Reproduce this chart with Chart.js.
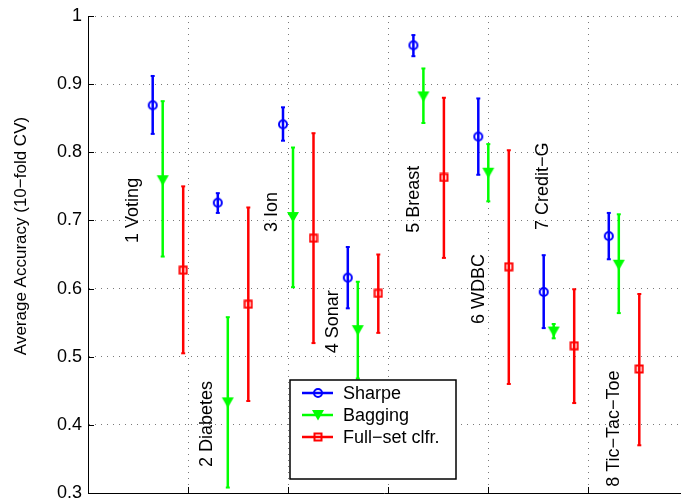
<!DOCTYPE html>
<html>
<head>
<meta charset="utf-8">
<script src="https://cdn.jsdelivr.net/npm/chart.js@4.4.1/dist/chart.umd.min.js"></script>
<style>
    html, body { margin: 0; padding: 0; background: #fff; overflow: hidden; }
    canvas { display: block; }
</style>
</head>
<body>
<canvas id="accChart" width="686" height="500" style="width:686px;height:500px"></canvas>
<script>
// === Data ===
const groupNames = ['1 Voting', '2 Diabetes', '3 Ion', '4 Sonar', '5 Breast', '6 WDBC', '7 Credit\u2212G', '8 Tic\u2212Tac\u2212Toe'];
const groupX = [0.647, 1.298, 1.950, 2.598, 3.254, 3.903, 4.557, 5.208];
const seriesNames = ['Sharpe', 'Bagging', 'Full\u2212set clfr.'];
const seriesOffset = [0, 0.10, 0.305];

const sharpeMean = [0.869, 0.726, 0.841, 0.616, 0.957, 0.823, 0.595, 0.677];
const sharpeLow  = [0.827, 0.711, 0.817, 0.571, 0.941, 0.767, 0.542, 0.643];
const sharpeHigh = [0.912, 0.740, 0.866, 0.661, 0.972, 0.879, 0.649, 0.711];

const baggingMean = [0.759, 0.433, 0.705, 0.539, 0.882, 0.770, 0.537, 0.635];
const baggingLow  = [0.647, 0.308, 0.602, 0.468, 0.843, 0.728, 0.527, 0.564];
const baggingHigh = [0.875, 0.558, 0.807, 0.610, 0.923, 0.812, 0.548, 0.709];

const fullMean = [0.627, 0.577, 0.674, 0.593, 0.763, 0.632, 0.516, 0.482];
const fullLow  = [0.505, 0.435, 0.520, 0.535, 0.645, 0.460, 0.432, 0.370];
const fullHigh = [0.750, 0.719, 0.828, 0.650, 0.880, 0.803, 0.599, 0.592];

// rotated dataset labels (x, y where the text starts)
const labelX = [0.450, 1.188, 1.837, 2.446, 3.257, 3.906, 4.550, 5.257];
const labelY = [0.667, 0.338, 0.683, 0.505, 0.682, 0.548, 0.686, 0.309];

const yTickValues = [0.3, 0.4, 0.5, 0.6, 0.7, 0.8, 0.9, 1.0];
const yTickLabels = ['0.3', '0.4', '0.5', '0.6', '0.7', '0.8', '0.9', '1'];
const xGridValues = [1, 2, 3, 4, 5];
const yTitle = 'Average Accuracy (10\u2212fold CV)';

// === Styles ===
const FONT = '"Liberation Sans", Arial, Helvetica, sans-serif';
const BLUE = '#0000ff', GREEN = '#00ff00', RED = '#ff0000';
const GRID = '#7a7a7a';

// marker images (MATLAB style)
function makeMarker(w, h, draw) {
    const c = document.createElement('canvas');
    c.width = w; c.height = h;
    draw(c.getContext('2d'));
    return c;
}
const circleMarker = makeMarker(12, 12, g => {
    g.strokeStyle = BLUE; g.lineWidth = 2;
    g.beginPath(); g.arc(6, 6, 4, 0, Math.PI * 2); g.stroke();
});
const triMarker = makeMarker(14, 12, g => {
    g.fillStyle = GREEN;
    g.beginPath(); g.moveTo(1, 1); g.lineTo(13, 1); g.lineTo(7, 11.5); g.closePath(); g.fill();
});
const squareMarker = makeMarker(10, 10, g => {
    g.strokeStyle = RED; g.lineWidth = 2;
    g.strokeRect(1.5, 1.5, 7, 7);
});
const markers = [circleMarker, triMarker, squareMarker];
const colors = [BLUE, GREEN, RED];

function barData(low, high, off) {
    const out = [];
    groupX.forEach((g, i) => {
        out.push({ x: g + off, y: low[i] }, { x: g + off, y: high[i] }, { x: g + off, y: null });
    });
    return out;
}
function markData(mean, off) {
    return groupX.map((g, i) => ({ x: g + off, y: mean[i] }));
}

const means = [sharpeMean, baggingMean, fullMean];
const lows = [sharpeLow, baggingLow, fullLow];
const highs = [sharpeHigh, baggingHigh, fullHigh];

const datasets = [];
for (let s = 0; s < 3; s++) {
    datasets.push({
        type: 'scatter',
        label: seriesNames[s],
        data: markData(means[s], seriesOffset[s]),
        pointStyle: markers[s],
        pointRadius: 5,
        order: 0
    });
}
for (let s = 0; s < 3; s++) {
    datasets.push({
        type: 'line',
        label: seriesNames[s] + ' bars',
        data: barData(lows[s], highs[s], seriesOffset[s]),
        borderColor: colors[s],
        borderWidth: 2.5,
        spanGaps: false,
        fill: false,
        pointStyle: 'line',
        pointRadius: c => (c.raw && c.raw.y != null ? 2 : 0),
        pointBorderWidth: 2,
        pointBorderColor: colors[s],
        order: 1
    });
}

// === Extra drawing: inward ticks, text labels, y title, legend ===
const decor = {
    id: 'decor',
    afterDatasetsDraw(chart) {
        const ctx = chart.ctx;
        const xs = chart.scales.x, ys = chart.scales.y;
        ctx.save();
        ctx.fillStyle = '#000';
        ctx.font = '18px ' + FONT;
        ctx.textAlign = 'left';
        ctx.textBaseline = 'middle';
        groupNames.forEach((name, i) => {
            ctx.save();
            ctx.translate(xs.getPixelForValue(labelX[i]), ys.getPixelForValue(labelY[i]));
            ctx.rotate(-Math.PI / 2);
            ctx.fillText(name, 0, 0);
            ctx.restore();
        });
        ctx.restore();
    },
    afterDraw(chart) {
        const ctx = chart.ctx;
        const area = chart.chartArea;
        const xs = chart.scales.x, ys = chart.scales.y;
        ctx.save();

        // inward ticks
        ctx.strokeStyle = '#000';
        ctx.lineWidth = 1;
        ctx.beginPath();
        yTickValues.forEach(v => {
            const py = Math.round(ys.getPixelForValue(v)) + 0.5;
            ctx.moveTo(area.left, py); ctx.lineTo(area.left + 6, py);
        });
        xGridValues.forEach(v => {
            const px = Math.round(xs.getPixelForValue(v)) + 0.5;
            ctx.moveTo(px, area.bottom); ctx.lineTo(px, area.bottom - 6);
        });
        ctx.stroke();

        // y axis title
        ctx.save();
        ctx.translate(21, 236);
        ctx.rotate(-Math.PI / 2);
        ctx.font = '17px ' + FONT;
        ctx.fillStyle = '#000';
        ctx.textAlign = 'center';
        ctx.textBaseline = 'middle';
        ctx.fillText(yTitle, 0, 0);
        ctx.restore();

        // legend box
        const lx = 290, ly = 380, lw = 166, lh = 99;
        ctx.fillStyle = '#fff';
        ctx.fillRect(lx, ly, lw, lh);
        ctx.strokeStyle = '#000';
        ctx.lineWidth = 1.5;
        ctx.strokeRect(lx, ly, lw, lh);
        ctx.font = '18px ' + FONT;
        ctx.textAlign = 'left';
        ctx.textBaseline = 'middle';
        seriesNames.forEach((name, i) => {
            const y = ly + 13 + i * 22;
            ctx.strokeStyle = colors[i];
            ctx.lineWidth = 2.5;
            ctx.beginPath();
            ctx.moveTo(lx + 12, y); ctx.lineTo(lx + 43, y);
            ctx.stroke();
            const m = markers[i];
            ctx.drawImage(m, lx + 28 - m.width / 2, y - m.height / 2);
            ctx.fillStyle = '#000';
            ctx.fillText(name, lx + 53, y + 1);
        });
        ctx.restore();
    }
};

const chart = new Chart(document.getElementById('accChart').getContext('2d'), {
    type: 'scatter',
    data: { datasets },
    options: {
        responsive: false,
        animation: false,
        layout: { padding: { top: 16, left: 0, right: 0, bottom: 0 } },
        plugins: { legend: { display: false }, tooltip: { enabled: false } },
        scales: {
            x: {
                type: 'linear',
                min: 0,
                max: 5.92,
                afterBuildTicks: s => { s.ticks = xGridValues.map(v => ({ value: v })); },
                afterFit: s => { s.height = 7; s.paddingLeft = 0; s.paddingRight = 0; },
                ticks: { display: false },
                grid: { color: GRID, lineWidth: 1, drawTicks: false },
                border: { display: true, color: '#000', width: 1, dash: [1, 5] }
            },
            y: {
                type: 'linear',
                min: 0.3,
                max: 1,
                afterBuildTicks: s => { s.ticks = yTickValues.map(v => ({ value: v })); },
                afterFit: s => { s.width = 88; s.paddingTop = 0; s.paddingBottom = 0; },
                ticks: {
                    padding: 6,
                    color: '#000',
                    font: { family: FONT, size: 18 },
                    callback: (v, i) => yTickLabels[i]
                },
                grid: { color: GRID, lineWidth: 1, drawTicks: false },
                border: { display: true, color: '#000', width: 1, dash: [1, 5] }
            }
        }
    },
    plugins: [decor]
});
</script>
</body>
</html>
